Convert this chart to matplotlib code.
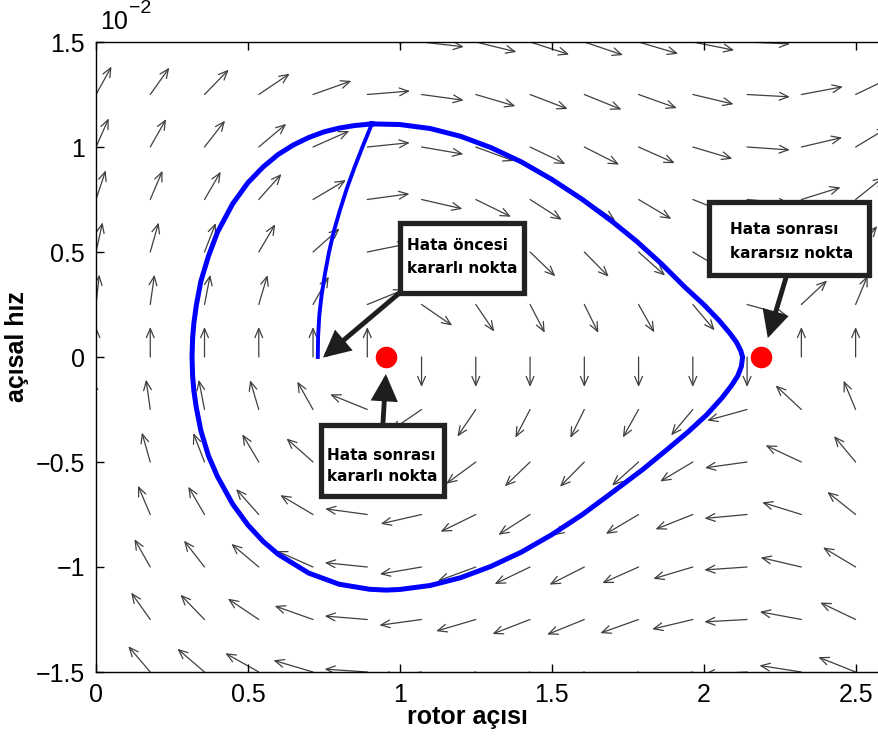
import numpy as np
import matplotlib
matplotlib.use("Agg")
import matplotlib.pyplot as plt
from matplotlib.patches import FancyArrowPatch, Rectangle

plt.rcParams['font.family'] = ['Liberation Sans', 'DejaVu Sans']

# ============================================
# values (y axis in units of 1e-2)
# ============================================

# quiver grid
grid_rotor = np.linspace(0, 2.5, 15)
grid_speed = np.linspace(-1.5, 1.5, 13)

# equilibrium points (post-fault)
eq_rotor = [0.954, 2.188]
eq_speed = [0.0, 0.0]

# field model: d(delta)/dt ~ k*omega, d(omega)/dt ~ pm - sin(delta)
pm = np.sin(eq_rotor[0])
k_speed = 0.253

# fault-on trajectory (from pre-fault stable point)
fault_rotor = [0.730, 0.731, 0.735, 0.743, 0.754, 0.767, 0.783, 0.803, 0.825, 0.850, 0.877, 0.908]
fault_speed = [0.000, 0.100, 0.200, 0.300, 0.400, 0.500, 0.600, 0.700, 0.800, 0.900, 1.000, 1.110]

# post-fault closed orbit
orbit_rotor = [0.908, 1.00, 1.10, 1.20, 1.30, 1.40, 1.50, 1.60, 1.70, 1.78, 1.86, 1.94,
               2.00, 2.05, 2.085, 2.108, 2.122, 2.128,
               2.124, 2.112, 2.092, 2.060, 2.010, 1.950, 1.880, 1.800, 1.700, 1.600,
               1.500, 1.400, 1.300, 1.200, 1.100, 1.000, 0.955, 0.900, 0.800, 0.700,
               0.600, 0.550, 0.500, 0.450, 0.400, 0.370, 0.345, 0.330, 0.322, 0.318,
               0.316,
               0.318, 0.322, 0.330, 0.345, 0.370, 0.400, 0.450, 0.500, 0.550, 0.600,
               0.650, 0.700, 0.750, 0.800, 0.850, 0.908]
orbit_speed = [1.110, 1.107, 1.088, 1.051, 0.997, 0.929, 0.846, 0.751, 0.644, 0.550, 0.445, 0.330,
               0.250, 0.175, 0.115, 0.070, 0.030, 0.000,
               -0.045, -0.090, -0.135, -0.195, -0.275, -0.355, -0.440, -0.535, -0.644, -0.751,
               -0.846, -0.929, -0.997, -1.051, -1.088, -1.107, -1.110, -1.106, -1.082, -1.029,
               -0.940, -0.878, -0.800, -0.701, -0.570, -0.470, -0.350, -0.240, -0.160, -0.090,
               0.000,
               0.090, 0.160, 0.245, 0.360, 0.480, 0.595, 0.730, 0.830, 0.905, 0.965,
               1.010, 1.045, 1.072, 1.090, 1.102, 1.110]

x_ticks = [0, 0.5, 1, 1.5, 2, 2.5]
y_ticks = [-1.5, -1, -0.5, 0, 0.5, 1, 1.5]

# annotation boxes: (left, right, bottom, top), text lines, text x, line y's
boxes = [
    ((1.002, 1.408, 0.305, 0.640), ["Hata öncesi", "kararlı nokta"], 1.024, [0.529, 0.422]),
    ((0.739, 1.146, -0.660, -0.326), ["Hata sonrası", "kararlı nokta"], 0.761, [-0.467, -0.569]),
    ((2.018, 2.544, 0.390, 0.736), ["Hata sonrası", "kararsız nokta"], 2.087, [0.605, 0.495]),
]
pointers = [
    ((0.999, 0.305), (0.747, -0.003)),
    ((0.944, -0.326), (0.954, -0.081)),
    ((2.273, 0.388), (2.211, 0.090)),
]

# ============================================
# Plotting
# ============================================

fig = plt.figure(figsize=(8.79, 7.40), dpi=100)
ax = fig.add_axes([96 / 879, 68 / 740, 790 / 879, 630 / 740])

# direction field (normalised arrows, ~43 px horizontal, ~30 px vertical)
for xr in grid_rotor:
    for ys in grid_speed:
        u = k_speed * ys
        v = pm - np.sin(xr)
        n = np.hypot(u, v)
        if n == 0:
            continue
        dx = 43 * u / n / 304
        dy = 30 * v / n / 210
        ax.add_patch(FancyArrowPatch((xr, ys), (xr + dx, ys + dy),
                                     arrowstyle='->,head_length=0.65,head_width=0.28',
                                     mutation_scale=10, lw=0.9, color='#404040',
                                     shrinkA=0, shrinkB=0, zorder=1))

ax.plot(orbit_rotor, orbit_speed, color='#0000ff', lw=3.6, zorder=3, solid_joinstyle='round')
ax.plot(fault_rotor, fault_speed, color='#0000ff', lw=2.8, zorder=3, solid_joinstyle='round')
ax.plot(eq_rotor, eq_speed, 'o', color='#ff0000', ms=14.5, zorder=4)

for (tail, tip) in pointers:
    ax.add_patch(FancyArrowPatch(tail, tip,
                                 arrowstyle='-|>,head_length=1.0,head_width=0.5',
                                 mutation_scale=14, lw=3.5, color='#1e1e1e',
                                 shrinkA=0, shrinkB=0, zorder=5, joinstyle='miter'))

for (l, r, b, t), lines, tx, tys in boxes:
    ax.add_patch(Rectangle((l, b), r - l, t - b, facecolor='white', edgecolor='#222222',
                           lw=3.8, zorder=6, joinstyle='miter'))
    for line, ty in zip(lines, tys):
        ax.text(tx, ty, line, ha='left', va='center', fontsize=11, fontweight='bold',
                family='DejaVu Sans', color='black', zorder=7)

ax.set_xlim(0, 2.6)
ax.set_ylim(-1.5, 1.5)
ax.set_xticks(x_ticks)
ax.set_yticks(y_ticks)
fmt = lambda v, p: ('%g' % v).replace('-', '\u2212')
ax.xaxis.set_major_formatter(plt.FuncFormatter(fmt))
ax.yaxis.set_major_formatter(plt.FuncFormatter(fmt))
ax.tick_params(direction='in', length=6, width=1, top=True, right=True,
               labelsize=18, pad=8, colors='black')
for s in ax.spines.values():
    s.set_linewidth(1)

ax.set_xlabel('rotor açısı', fontsize=18, fontweight='bold')
ax.xaxis.set_label_coords(0.4696, -0.053)
ax.set_ylabel('açısal hız', fontsize=18, fontweight='bold')
ax.yaxis.set_label_coords(-0.085, 0.516)

ax.text(0.005, 1.013, '10', transform=ax.transAxes, fontsize=18, ha='left', va='bottom')
ax.text(0.042, 1.040, '\u22122', transform=ax.transAxes, fontsize=14, ha='left', va='bottom')

fig.savefig('out.png', dpi=100)
